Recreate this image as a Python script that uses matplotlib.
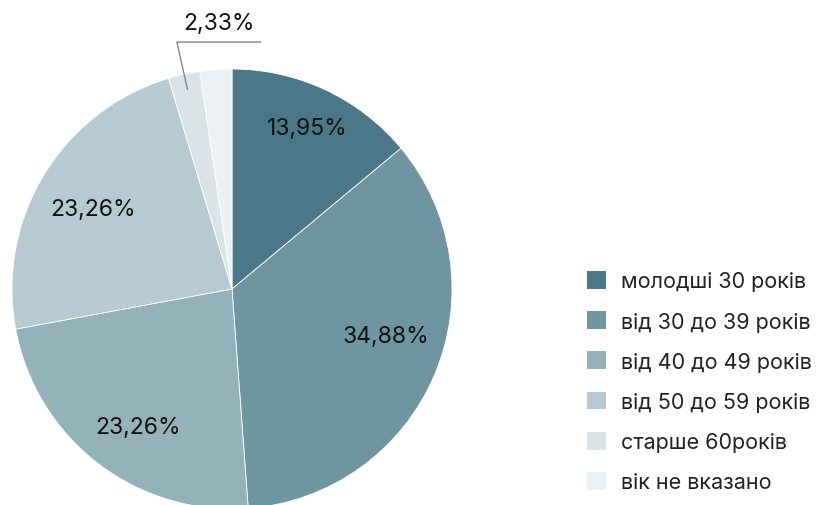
import numpy as np
import matplotlib
matplotlib.use("Agg")
import matplotlib.pyplot as plt
from matplotlib.patches import Patch

plt.rcParams['font.family'] = ['Inter', 'DejaVu Sans']

categories = ["молодші 30 років", "від 30 до 39 років", "від 40 до 49 років",
              "від 50 до 59 років", "старше 60років", "вік не вказано"]
values = [13.95, 34.88, 23.26, 23.26, 2.33, 2.33]
labels = ["13,95%", "34,88%", "23,26%", "23,26%", "2,33%", ""]
colors = ["#4b7888", "#6f95a0", "#95b1b9", "#b7cad1", "#d9e3e8", "#ebf1f2"]

W, H = 830, 506
fig = plt.figure(figsize=(W / 100, H / 100), dpi=100)
cx, cy, R = 232, 290, 220
ax = fig.add_axes([(cx - R) / W, (H - cy - R) / H, 2 * R / W, 2 * R / H])

wedges, _ = ax.pie(values, colors=colors, startangle=90, counterclock=False,
                   radius=1, wedgeprops=dict(edgecolor='white', linewidth=0.6))
ax.set_xlim(-1, 1)
ax.set_ylim(-1, 1)
ax.axis('off')
for w in wedges:
    w.set_clip_on(False)

# label placement: (radius fraction, angular nudge in degrees)
label_place = [(0.81, 0), (0.73, 6), (0.76, 3.5), (0.73, 1.5)]
for i, w in enumerate(wedges):
    ang_deg = (w.theta1 + w.theta2) / 2
    if i < 4:
        r, da = label_place[i]
        ang = np.deg2rad(ang_deg + da)
        ax.text(r * np.cos(ang), r * np.sin(ang), labels[i], ha='center', va='center',
                fontsize=16.5, color='#111111')
    elif i == 4:
        ang = np.deg2rad(ang_deg)
        p0 = (0.93 * np.cos(ang), 0.93 * np.sin(ang))
        p1 = (1.15 * np.cos(ang), 1.15 * np.sin(ang))
        p2 = (p1[0] + 0.38, p1[1])
        ax.plot([p0[0], p1[0], p2[0]], [p0[1], p1[1], p2[1]], color='#888888',
                lw=1.0, clip_on=False)
        ax.text((p1[0] + p2[0]) / 2, p1[1] + 0.035, labels[i], ha='center', va='bottom',
                fontsize=16.5, color='#111111')

handles = [Patch(facecolor=c, edgecolor='none') for c in colors]
fig.legend(handles, categories, loc='upper left', bbox_to_anchor=(587 / W, 1 - 272 / H),
           frameon=False, fontsize=15.5, handlelength=0.9, handleheight=0.9,
           handletextpad=0.7, labelspacing=0.92, borderpad=0, borderaxespad=0,
           labelcolor='#222222')

fig.savefig("out.png", dpi=100)
